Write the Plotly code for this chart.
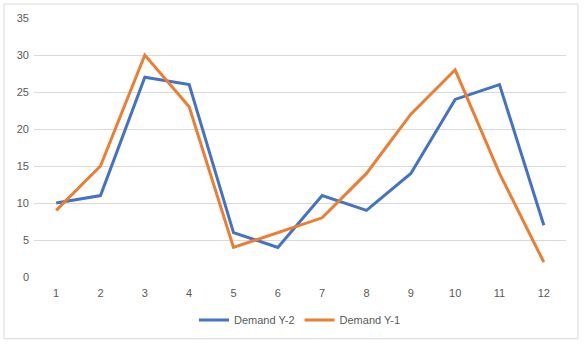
import plotly.graph_objects as go

months = [1, 2, 3, 4, 5, 6, 7, 8, 9, 10, 11, 12]
demand_y2 = [10, 11, 27, 26, 6, 4, 11, 9, 14, 24, 26, 7]
demand_y1 = [9, 15, 30, 23, 4, 6, 8, 14, 22, 28, 14, 2]
y_ticks = [0, 5, 10, 15, 20, 25, 30, 35]

W, H = 584, 345
ml, mr, mt, mb = 34, 18, 18, 67
pw, ph = W - ml - mr, H - mt - mb

fig = go.Figure()
fig.add_trace(go.Scatter(x=months, y=demand_y2, mode="lines", name="Demand Y-2",
                         line=dict(color="#4472C4", width=3)))
fig.add_trace(go.Scatter(x=months, y=demand_y1, mode="lines", name="Demand Y-1",
                         line=dict(color="#ED7D31", width=3)))

font = dict(family="Liberation Sans, Arial, sans-serif", size=11, color="#595959")

fig.update_layout(
    width=W, height=H,
    margin=dict(l=ml, r=mr, t=mt, b=mb),
    paper_bgcolor="white", plot_bgcolor="white",
    font=font,
    showlegend=True,
    legend=dict(orientation="h", x=0.5, xanchor="center", y=(mt + ph - 320) / ph,
                yanchor="middle", font=font, bgcolor="rgba(0,0,0,0)"),
    xaxis=dict(range=[0.5, 12.5], tickvals=months, ticktext=[str(m) for m in months],
               showgrid=False, zeroline=False, showline=False, ticks="",
               tickfont=font, ticklabelstandoff=8),
    yaxis=dict(range=[0, 35], tickvals=y_ticks, showgrid=True, gridcolor="#D9D9D9",
               gridwidth=1, zeroline=False, showline=False, ticks="", tickfont=font,
               ticklabelstandoff=4),
    shapes=[dict(type="rect", xref="paper", yref="paper",
                 x0=(4 - ml) / pw, x1=(578 - ml) / pw,
                 y0=(mt + ph - 340) / ph, y1=(mt + ph - 4) / ph,
                 line=dict(color="#D9D9D9", width=1), fillcolor="rgba(0,0,0,0)",
                 layer="below")],
)

fig.write_html("out.html")
